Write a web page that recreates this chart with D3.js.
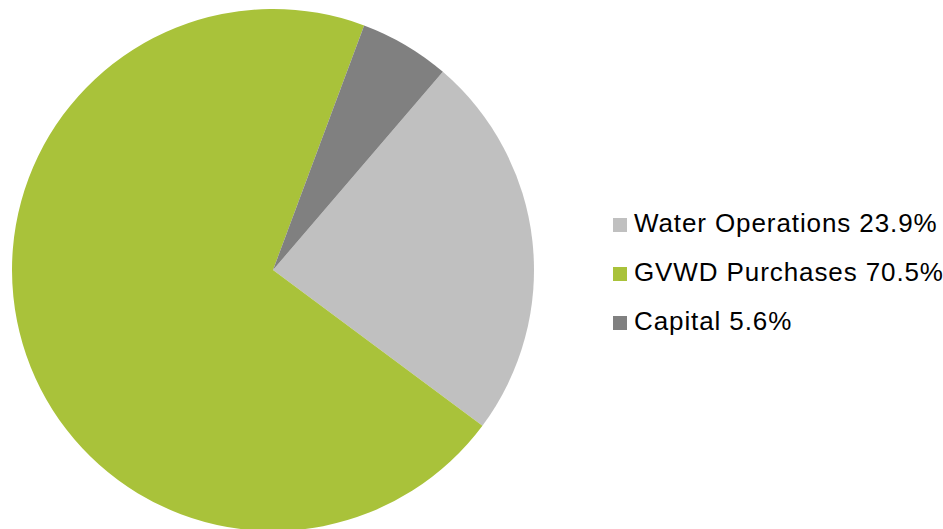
<!DOCTYPE html>
<html>
<head>
<meta charset="utf-8">
<script src="https://cdn.jsdelivr.net/npm/d3@7"></script>
<style>
  html, body { margin: 0; padding: 0; background: #fff; }
  svg { display: block; }
</style>
</head>
<body>
<svg id="chart" width="943" height="529"></svg>
<script>
// Budget breakdown
const categories = ["Water Operations", "GVWD Purchases", "Capital"];
const shares = [23.9, 70.5, 5.6];
const colors = ["#c0c0c0", "#a9c23a", "#808080"];

const W = 943, H = 529;
const cx = 273, cy = 270, radius = 261;

const svg = d3.select("#chart");

const data = categories.map((c, i) => ({ name: c, value: shares[i], color: colors[i] }));

const start = 40.6 * Math.PI / 180;
const pie = d3.pie()
  .sort(null)
  .value(d => d.value)
  .startAngle(start)
  .endAngle(start + 2 * Math.PI);

const arc = d3.arc().innerRadius(0).outerRadius(radius);

svg.append("g")
  .attr("transform", `translate(${cx},${cy})`)
  .selectAll("path")
  .data(pie(data))
  .join("path")
  .attr("d", arc)
  .attr("fill", d => d.data.color);

// Legend
const legendY = d3.scalePoint().domain(categories).range([232, 330]);
const legend = svg.append("g");
const rows = legend.selectAll("g")
  .data(data)
  .join("g")
  .attr("transform", d => `translate(613,${legendY(d.name)})`);

rows.append("rect")
  .attr("x", 0)
  .attr("y", -14)
  .attr("width", 14)
  .attr("height", 14)
  .attr("fill", d => d.color);

rows.append("text")
  .attr("x", 21)
  .attr("y", 0)
  .attr("font-family", "'Liberation Sans', Arial, sans-serif")
  .attr("font-size", 26)
  .attr("letter-spacing", 0.9)
  .attr("fill", "#000")
  .text(d => `${d.name} ${d.value.toFixed(1)}%`);
</script>
</body>
</html>
